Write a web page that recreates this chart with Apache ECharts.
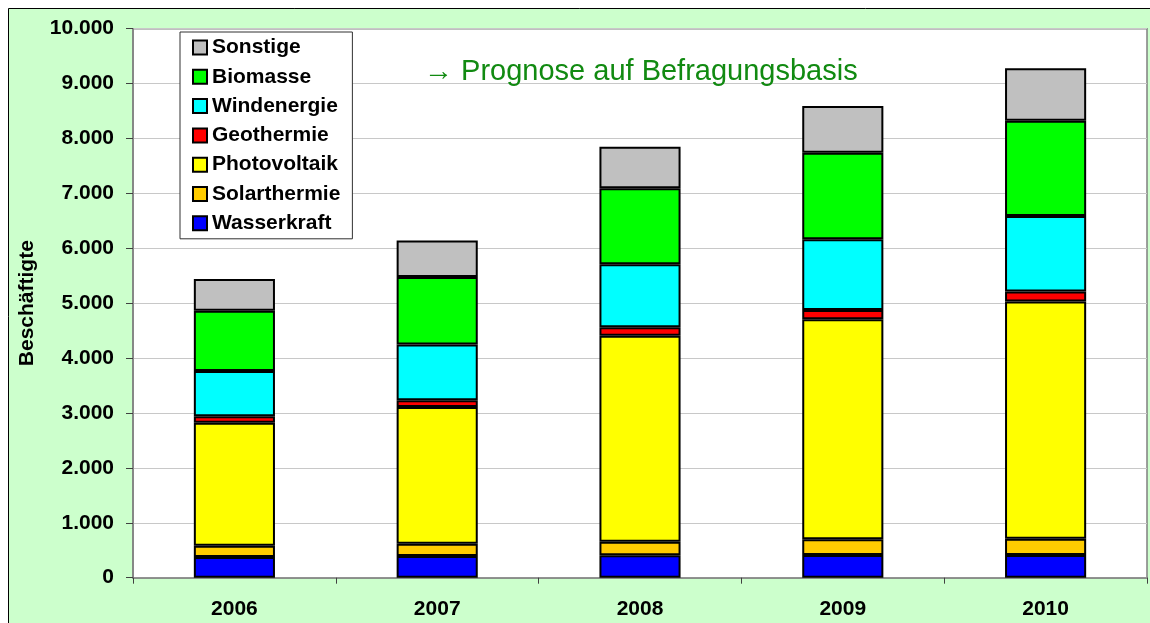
<!DOCTYPE html>
<html>
<head>
<meta charset="utf-8">
<script src="https://cdn.jsdelivr.net/npm/echarts@6/dist/echarts.min.js"></script>
<style>
  html, body { margin: 0; padding: 0; background: #ffffff; }
  #chart { width: 1150px; height: 623px; }
</style>
</head>
<body>
<div id="chart"></div>
<script>
// Jahre (Kategorien)
const years = ['2006', '2007', '2008', '2009', '2010'];

// Beschäftigte je Sparte
const wasserkraft  = [377, 395, 408, 413, 415];
const solarthermie = [206, 225, 248, 286, 295];
const photovoltaik = [2241, 2490, 3752, 4008, 4321];
const geothermie   = [116, 122, 153, 169, 183];
const windenergie  = [825, 1014, 1148, 1288, 1375];
const biomasse     = [1098, 1232, 1384, 1577, 1734];
const sonstige     = [576, 665, 758, 851, 955];

// Achsenbereich
const yMin = 0, yMax = 10000, yStep = 1000;

const FONT = '"Liberation Sans", Arial, sans-serif';

const seriesDefs = [
  { name: 'Wasserkraft',  data: wasserkraft,  color: '#0000FF' },
  { name: 'Solarthermie', data: solarthermie, color: '#FFCC00' },
  { name: 'Photovoltaik', data: photovoltaik, color: '#FFFF00' },
  { name: 'Geothermie',   data: geothermie,   color: '#FF0000' },
  { name: 'Windenergie',  data: windenergie,  color: '#00FFFF' },
  { name: 'Biomasse',     data: biomasse,     color: '#00FF00' },
  { name: 'Sonstige',     data: sonstige,     color: '#C0C0C0' }
];

const fmt = v => String(v).replace(/\B(?=(\d{3})+(?!\d))/g, '.');

const chart = echarts.init(document.getElementById('chart'), null, { renderer: 'canvas' });

chart.setOption({
  animation: false,
  backgroundColor: '#ffffff',
  graphic: [
    {
      type: 'rect', z: -100, silent: true,
      shape: { x: 8.5, y: 8.5, width: 1200, height: 700 },
      style: { fill: '#CCFFCC', stroke: '#000000', lineWidth: 1 }
    },
    {
      type: 'text', z: 100, left: 424, top: 57,
      style: {
        text: '\u2192 Prognose auf Befragungsbasis',
        fill: '#118A11',
        font: '29px ' + FONT
      }
    }
  ],
  grid: {
    left: 133, top: 28.7, right: 3, bottom: 45.3,
    show: true, backgroundColor: '#ffffff',
    borderColor: '#808080', borderWidth: 1.5
  },
  legend: {
    orient: 'vertical',
    left: 180, top: 32,
    data: ['Sonstige', 'Biomasse', 'Windenergie', 'Geothermie', 'Photovoltaik', 'Solarthermie', 'Wasserkraft'],
    backgroundColor: '#ffffff',
    borderColor: '#303030', borderWidth: 1,
    padding: [5, 12, 5, 12],
    itemWidth: 14, itemHeight: 14, itemGap: 8.3,
    icon: 'rect',
    itemStyle: { borderColor: '#000000', borderWidth: 2 },
    textStyle: { fontFamily: FONT, fontWeight: 'bold', fontSize: 21, lineHeight: 21, color: '#000000' }
  },
  xAxis: {
    type: 'category',
    data: years,
    axisLine: { show: true, lineStyle: { color: '#808080', width: 1.5 } },
    axisTick: { show: true, length: 6, lineStyle: { color: '#404040' } },
    axisLabel: { fontFamily: FONT, fontWeight: 'bold', fontSize: 21, color: '#000000', margin: 21 }
  },
  yAxis: {
    type: 'value',
    min: yMin, max: yMax, interval: yStep,
    name: 'Beschäftigte',
    nameLocation: 'middle',
    nameRotate: 90,
    nameGap: 95,
    nameTextStyle: { fontFamily: FONT, fontWeight: 'bold', fontSize: 21, color: '#000000' },
    axisLine: { show: true, lineStyle: { color: '#808080', width: 1.5 } },
    axisTick: { show: true, length: 7, lineStyle: { color: '#404040' } },
    axisLabel: {
      fontFamily: FONT, fontWeight: 'bold', fontSize: 21, color: '#000000', margin: 19,
      formatter: fmt
    },
    splitLine: { show: true, lineStyle: { color: '#C8C8C8', width: 1 } }
  },
  series: seriesDefs.map(s => ({
    name: s.name,
    type: 'bar',
    stack: 'total',
    data: s.data,
    barWidth: '40%',
    itemStyle: { color: s.color, borderColor: '#000000', borderWidth: 2 }
  }))
});
</script>
</body>
</html>
